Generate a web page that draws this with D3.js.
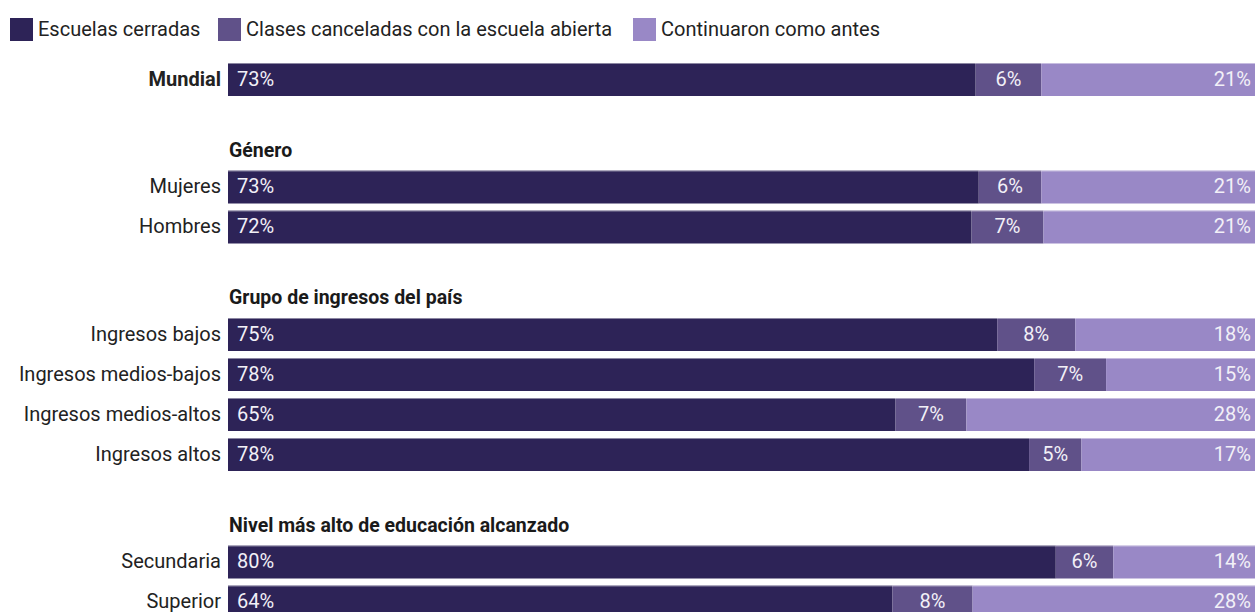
<!DOCTYPE html>
<html><head><meta charset="utf-8">
<script src="https://cdn.jsdelivr.net/npm/d3@7"></script>
<style>body{margin:0;background:#fff;} svg{display:block;font-family:Roboto, sans-serif;}</style>
</head><body>
<svg id="c" width="1255" height="612"></svg>
<script>
const seriesNames = ["Escuelas cerradas", "Clases canceladas con la escuela abierta", "Continuaron como antes"];
const colors = ["#2d2357", "#605189", "#9988c6"];
const groupTitles = [null, "Género", "Grupo de ingresos del país", "Nivel más alto de educación alcanzado"];
const categories = ["Mundial", "Mujeres", "Hombres", "Ingresos bajos", "Ingresos medios-bajos", "Ingresos medios-altos", "Ingresos altos", "Secundaria", "Superior"];
const groupOf = [0, 1, 1, 2, 2, 2, 2, 3, 3];
const closed = [72.8, 73.1, 72.4, 74.9, 78.5, 65.0, 78.0, 80.6, 64.7];
const cancelled = [6.4, 6.1, 7.0, 7.6, 7.0, 6.9, 5.1, 5.6, 7.8];
const continued = [20.8, 20.8, 20.6, 17.5, 14.5, 28.1, 16.9, 13.8, 27.5];
const labelsClosed = ["73%", "73%", "72%", "75%", "78%", "65%", "78%", "80%", "64%"];
const labelsCancelled = ["6%", "6%", "7%", "8%", "7%", "7%", "5%", "6%", "8%"];
const labelsContinued = ["21%", "21%", "21%", "18%", "15%", "28%", "17%", "14%", "28%"];

const svg = d3.select("#c");
const x = d3.scaleLinear().domain([0, 100]).range([228, 1255]);
const rowStep = 40, groupGap = 67.5, top0 = 63, barH = 33;
const yTop = i => top0 + i * rowStep + groupOf[i] * groupGap;

// legend
const legX = [10, 218, 633];
seriesNames.forEach((s, k) => {
  svg.append("rect").attr("x", legX[k]).attr("y", 18).attr("width", 23).attr("height", 23).attr("fill", colors[k]);
  svg.append("text").attr("x", legX[k] + 28).attr("y", 31).attr("dominant-baseline", "middle")
    .attr("font-size", 20).attr("fill", "#222").text(s);
});

const data = categories.map((c, i) => {
  const vals = [closed[i], cancelled[i], continued[i]];
  const labs = [labelsClosed[i], labelsCancelled[i], labelsContinued[i]];
  let acc = 0;
  const segs = vals.map((v, k) => { const s = {k, x0: acc, x1: acc + v, lab: labs[k]}; acc += v; return s; });
  return {c, i, segs};
});

// group headers
groupTitles.forEach((t, g) => {
  if (!t) return;
  const first = groupOf.indexOf(g);
  svg.append("text").attr("x", 229).attr("y", yTop(first) - 19).attr("dominant-baseline", "middle")
    .attr("font-size", 19.5).attr("font-weight", "bold").attr("fill", "#1a1a1a").text(t);
});

const rows = svg.selectAll("g.row").data(data).join("g").attr("class", "row");
rows.append("text").attr("x", 221).attr("y", d => yTop(d.i) + barH / 2 + 1)
  .attr("text-anchor", "end").attr("dominant-baseline", "middle").attr("font-size", 20)
  .attr("font-weight", d => d.i === 0 ? "bold" : "normal").attr("fill", "#222").text(d => d.c);

rows.each(function(d) {
  const g = d3.select(this);
  g.selectAll("rect").data(d.segs).join("rect")
    .attr("x", s => x(s.x0)).attr("width", s => x(s.x1) - x(s.x0))
    .attr("y", yTop(d.i)).attr("height", barH).attr("fill", s => colors[s.k]);
  g.append("line").attr("x1", x(0)).attr("x2", x(100)).attr("y1", yTop(d.i) + 0.5).attr("y2", yTop(d.i) + 0.5)
    .attr("stroke", "#ffffff").attr("stroke-opacity", 0.45);
  g.selectAll("text.v").data(d.segs).join("text").attr("class", "v")
    .attr("x", s => s.k === 0 ? x(s.x0) + 9 : s.k === 1 ? (x(s.x0) + x(s.x1)) / 2 : x(s.x1) - 4)
    .attr("text-anchor", s => s.k === 0 ? "start" : s.k === 1 ? "middle" : "end")
    .attr("y", yTop(d.i) + barH / 2 + 1).attr("dominant-baseline", "middle")
    .attr("font-size", 20).attr("fill", "#f2f0f7").text(s => s.lab);
});
</script>
</body></html>
